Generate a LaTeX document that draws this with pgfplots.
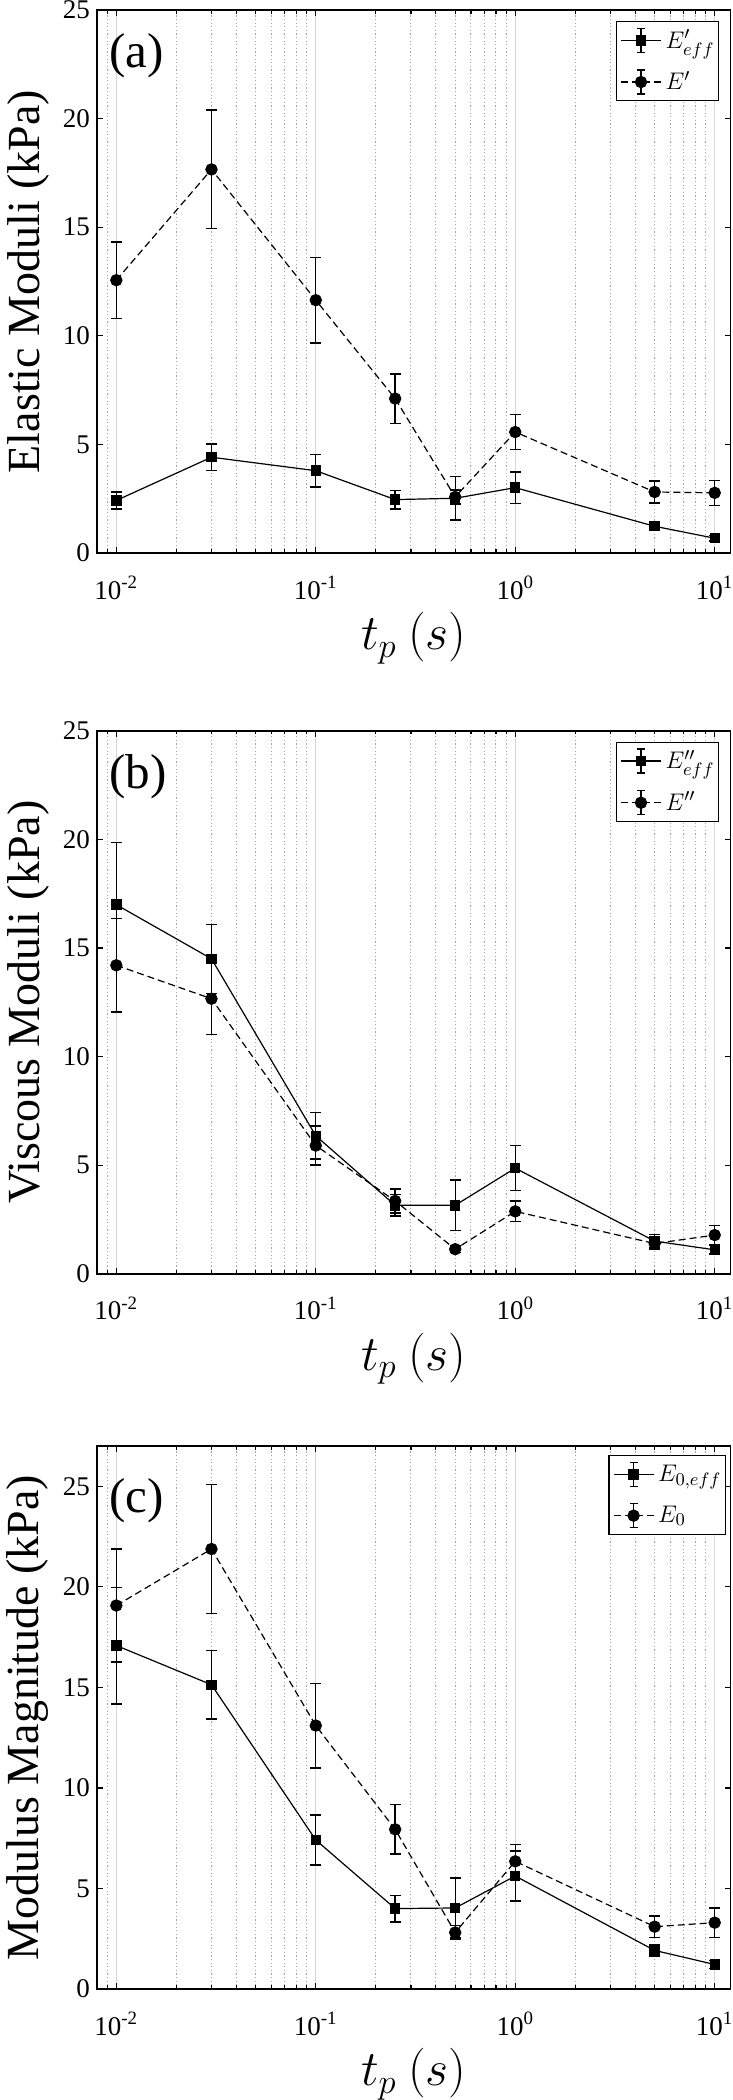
\documentclass[border=0pt]{standalone}
\usepackage{fontspec}
\setmainfont{Liberation Serif}
\usepackage{pgfplots}
\pgfplotsset{compat=1.18}
\begin{document}
\begin{tikzpicture}
\path[use as bounding box] (0,0) rectangle (366.5pt,-1050pt);

% ---------------- (a)
\begin{axis}[at={(48.5pt,-5pt)}, anchor=north west,
    xmode=log, scale only axis, width=316.75pt, height=271.5pt,
    xmin=0.008, xmax=12, ymin=0, ymax=25, ytick={0,5,10,15,20,25},
    xtick={0.01,0.1,1,10},
    xticklabels={10\textsuperscript{-2},10\textsuperscript{-1},10\textsuperscript{0},10\textsuperscript{1}},
    minor xtick={0.009,0.02,0.03,0.04,0.05,0.06,0.07,0.08,0.09,0.2,0.3,0.4,0.5,0.6,0.7,0.8,0.9,2,3,4,5,6,7,8,9},
    xmajorgrids, xminorgrids,
    major grid style={black!16, line width=0.6pt},
    minor grid style={black!35, line width=0.5pt, dash pattern=on 0.6pt off 1.2pt},
    tick align=inside, major tick length=3pt, minor tick length=1.8pt,
    tick style={black, line width=0.6pt},
    axis line style={black, line width=0.85pt},
    yticklabel={\pgfmathprintnumber[assume math mode=true]{\tick}},
    tick label style={font=\fontsize{13.5}{16}\selectfont},
    xticklabel style={yshift=-8pt},
    xlabel style={at={(axis description cs:0.5,0)}, anchor=north, yshift=-29.5pt, inner sep=0pt, font=\fontsize{23}{28}\selectfont},
    ylabel style={at={(axis description cs:-0.109,0.5)}, anchor=center, font=\fontsize{23}{27}\selectfont},
    xlabel={$t_p\ (s)$},
    ylabel={Elastic Moduli (kPa)},
    legend cell align=left,
    legend style={at={(axis description cs:0.982,0.980)}, anchor=north east, draw=black, line width=0.6pt, fill=white,
      inner xsep=2pt, inner ysep=3pt, font=\fontsize{12.5}{15}\selectfont, row sep=8pt, column sep=2pt, nodes={inner xsep=0pt, inner ysep=1pt}},
    legend image code/.code={
      \draw[#1, solid, mark=none, line width=0.6pt] (10pt,-6pt) -- (10pt,6pt) (8pt,-6pt) -- (12pt,-6pt) (8pt,6pt) -- (12pt,6pt);
      \draw[mark repeat=2, mark phase=2, #1] plot coordinates {(0pt,0pt) (10pt,0pt) (20pt,0pt)};
    }]
\addplot[black, solid, line width=0.6pt, mark=square*, mark size=2.3pt, mark options={solid, fill=black},
  error bars/.cd, y dir=both, y explicit,
  error bar style={solid, line width=0.7pt, black},
  error mark options={rotate=90, mark size=2.75pt, solid, line width=0.7pt, black}] coordinates {
  (0.01,2.42) +- (0,0.39)
  (0.03,4.41) +- (0,0.60)
  (0.1,3.79) +- (0,0.75)
  (0.25,2.46) +- (0,0.43)
  (0.5,2.52) +- (0,1.00)
  (1,3.01) +- (0,0.72)
  (5,1.23) +- (0,0.20)
  (10,0.68) +- (0,0.12)
};
\addlegendentry{$E'_{eff}$}
\addplot[black, dash pattern=on 3.5pt off 2pt, line width=0.6pt, mark=*, mark size=2.8pt, mark options={solid, fill=black},
  error bars/.cd, y dir=both, y explicit,
  error bar style={solid, line width=0.7pt, black},
  error mark options={rotate=90, mark size=2.75pt, solid, line width=0.7pt, black}] coordinates {
  (0.01,12.56) +- (0,1.76)
  (0.03,17.66) +- (0,2.73)
  (0.1,11.64) +- (0,1.97)
  (0.25,7.11) +- (0,1.14)
  (0.5,2.58) +- (0,0.33)
  (1,5.57) +- (0,0.80)
  (5,2.81) +- (0,0.50)
  (10,2.77) +- (0,0.58)
};
\addlegendentry{$E'$}
\node[anchor=west, inner sep=0pt, font=\fontsize{24.5}{29}\selectfont] at (axis description cs:0.019,0.915) {(a)};
\end{axis}

% ---------------- (b)
\begin{axis}[at={(48.5pt,-365.35pt)}, anchor=north west,
    xmode=log, scale only axis, width=316.75pt, height=271.5pt,
    xmin=0.008, xmax=12, ymin=0, ymax=25, ytick={0,5,10,15,20,25},
    xtick={0.01,0.1,1,10},
    xticklabels={10\textsuperscript{-2},10\textsuperscript{-1},10\textsuperscript{0},10\textsuperscript{1}},
    minor xtick={0.009,0.02,0.03,0.04,0.05,0.06,0.07,0.08,0.09,0.2,0.3,0.4,0.5,0.6,0.7,0.8,0.9,2,3,4,5,6,7,8,9},
    xmajorgrids, xminorgrids,
    major grid style={black!16, line width=0.6pt},
    minor grid style={black!35, line width=0.5pt, dash pattern=on 0.6pt off 1.2pt},
    tick align=inside, major tick length=3pt, minor tick length=1.8pt,
    tick style={black, line width=0.6pt},
    axis line style={black, line width=0.85pt},
    yticklabel={\pgfmathprintnumber[assume math mode=true]{\tick}},
    tick label style={font=\fontsize{13.5}{16}\selectfont},
    xticklabel style={yshift=-8pt},
    xlabel style={at={(axis description cs:0.5,0)}, anchor=north, yshift=-29.5pt, inner sep=0pt, font=\fontsize{23}{28}\selectfont},
    ylabel style={at={(axis description cs:-0.109,0.5)}, anchor=center, font=\fontsize{23}{27}\selectfont},
    xlabel={$t_p\ (s)$},
    ylabel={Viscous Moduli (kPa)},
    legend cell align=left,
    legend style={at={(axis description cs:0.982,0.980)}, anchor=north east, draw=black, line width=0.6pt, fill=white,
      inner xsep=2pt, inner ysep=3pt, font=\fontsize{12.5}{15}\selectfont, row sep=8pt, column sep=2pt, nodes={inner xsep=0pt, inner ysep=1pt}},
    legend image code/.code={
      \draw[#1, solid, mark=none, line width=0.6pt] (10pt,-6pt) -- (10pt,6pt) (8pt,-6pt) -- (12pt,-6pt) (8pt,6pt) -- (12pt,6pt);
      \draw[mark repeat=2, mark phase=2, #1] plot coordinates {(0pt,0pt) (10pt,0pt) (20pt,0pt)};
    }]
\addplot[black, solid, line width=0.6pt, mark=square*, mark size=2.3pt, mark options={solid, fill=black},
  error bars/.cd, y dir=both, y explicit,
  error bar style={solid, line width=0.7pt, black},
  error mark options={rotate=90, mark size=2.75pt, solid, line width=0.7pt, black}] coordinates {
  (0.01,16.99) +- (0,2.85)
  (0.03,14.50) +- (0,1.59)
  (0.1,6.35) +- (0,1.07)
  (0.25,3.15) +- (0,0.50)
  (0.5,3.15) +- (0,1.17)
  (1,4.86) +- (0,1.03)
  (5,1.50) +- (0,0.30)
  (10,1.10) +- (0,0.20)
};
\addlegendentry{$E''_{eff}$}
\addplot[black, dash pattern=on 3.5pt off 2pt, line width=0.6pt, mark=*, mark size=2.8pt, mark options={solid, fill=black},
  error bars/.cd, y dir=both, y explicit,
  error bar style={solid, line width=0.7pt, black},
  error mark options={rotate=90, mark size=2.75pt, solid, line width=0.7pt, black}] coordinates {
  (0.01,14.20) +- (0,2.15)
  (0.03,12.66) +- (0,1.64)
  (0.1,5.90) +- (0,0.90)
  (0.25,3.35) +- (0,0.55)
  (0.5,1.13) +- (0,0.15)
  (1,2.87) +- (0,0.47)
  (5,1.39) +- (0,0.25)
  (10,1.78) +- (0,0.45)
};
\addlegendentry{$E''$}
\node[anchor=west, inner sep=0pt, font=\fontsize{24.5}{29}\selectfont] at (axis description cs:0.019,0.915) {(b)};
\end{axis}

% ---------------- (c)
\begin{axis}[at={(48.5pt,-723pt)}, anchor=north west,
    xmode=log, scale only axis, width=316.75pt, height=271.5pt,
    xmin=0.008, xmax=12, ymin=0, ymax=27, ytick={0,5,10,15,20,25},
    xtick={0.01,0.1,1,10},
    xticklabels={10\textsuperscript{-2},10\textsuperscript{-1},10\textsuperscript{0},10\textsuperscript{1}},
    minor xtick={0.009,0.02,0.03,0.04,0.05,0.06,0.07,0.08,0.09,0.2,0.3,0.4,0.5,0.6,0.7,0.8,0.9,2,3,4,5,6,7,8,9},
    xmajorgrids, xminorgrids,
    major grid style={black!16, line width=0.6pt},
    minor grid style={black!35, line width=0.5pt, dash pattern=on 0.6pt off 1.2pt},
    tick align=inside, major tick length=3pt, minor tick length=1.8pt,
    tick style={black, line width=0.6pt},
    axis line style={black, line width=0.85pt},
    yticklabel={\pgfmathprintnumber[assume math mode=true]{\tick}},
    tick label style={font=\fontsize{13.5}{16}\selectfont},
    xticklabel style={yshift=-8pt},
    xlabel style={at={(axis description cs:0.5,0)}, anchor=north, yshift=-29.5pt, inner sep=0pt, font=\fontsize{23}{28}\selectfont},
    ylabel style={at={(axis description cs:-0.109,0.5)}, anchor=center, font=\fontsize{23}{27}\selectfont},
    xlabel={$t_p\ (s)$},
    ylabel={Modulus Magnitude (kPa)},
    legend cell align=left,
    legend style={at={(axis description cs:0.993,0.983)}, anchor=north east, draw=black, line width=0.6pt, fill=white,
      inner xsep=2pt, inner ysep=3pt, font=\fontsize{12.5}{15}\selectfont, row sep=8pt, column sep=2pt, nodes={inner xsep=0pt, inner ysep=1pt}},
    legend image code/.code={
      \draw[#1, solid, mark=none, line width=0.6pt] (10pt,-6pt) -- (10pt,6pt) (8pt,-6pt) -- (12pt,-6pt) (8pt,6pt) -- (12pt,6pt);
      \draw[mark repeat=2, mark phase=2, #1] plot coordinates {(0pt,0pt) (10pt,0pt) (20pt,0pt)};
    }]
\addplot[black, solid, line width=0.6pt, mark=square*, mark size=2.3pt, mark options={solid, fill=black},
  error bars/.cd, y dir=both, y explicit,
  error bar style={solid, line width=0.7pt, black},
  error mark options={rotate=90, mark size=2.75pt, solid, line width=0.7pt, black}] coordinates {
  (0.01,17.08) +- (0,2.90)
  (0.03,15.13) +- (0,1.70)
  (0.1,7.41) +- (0,1.25)
  (0.25,4.00) +- (0,0.66)
  (0.5,4.03) +- (0,1.50)
  (1,5.62) +- (0,1.25)
  (5,1.92) +- (0,0.30)
  (10,1.22) +- (0,0.20)
};
\addlegendentry{$E_{0,eff}$}
\addplot[black, dash pattern=on 3.5pt off 2pt, line width=0.6pt, mark=*, mark size=2.8pt, mark options={solid, fill=black},
  error bars/.cd, y dir=both, y explicit,
  error bar style={solid, line width=0.7pt, black},
  error mark options={rotate=90, mark size=2.75pt, solid, line width=0.7pt, black}] coordinates {
  (0.01,19.07) +- (0,2.80)
  (0.03,21.88) +- (0,3.20)
  (0.1,13.10) +- (0,2.10)
  (0.25,7.94) +- (0,1.23)
  (0.5,2.81) +- (0,0.35)
  (1,6.35) +- (0,0.85)
  (5,3.10) +- (0,0.53)
  (10,3.30) +- (0,0.73)
};
\addlegendentry{$E_0$}
\node[anchor=west, inner sep=0pt, font=\fontsize{24.5}{29}\selectfont] at (axis description cs:0.019,0.899) {(c)};
\end{axis}
\end{tikzpicture}
\end{document}
